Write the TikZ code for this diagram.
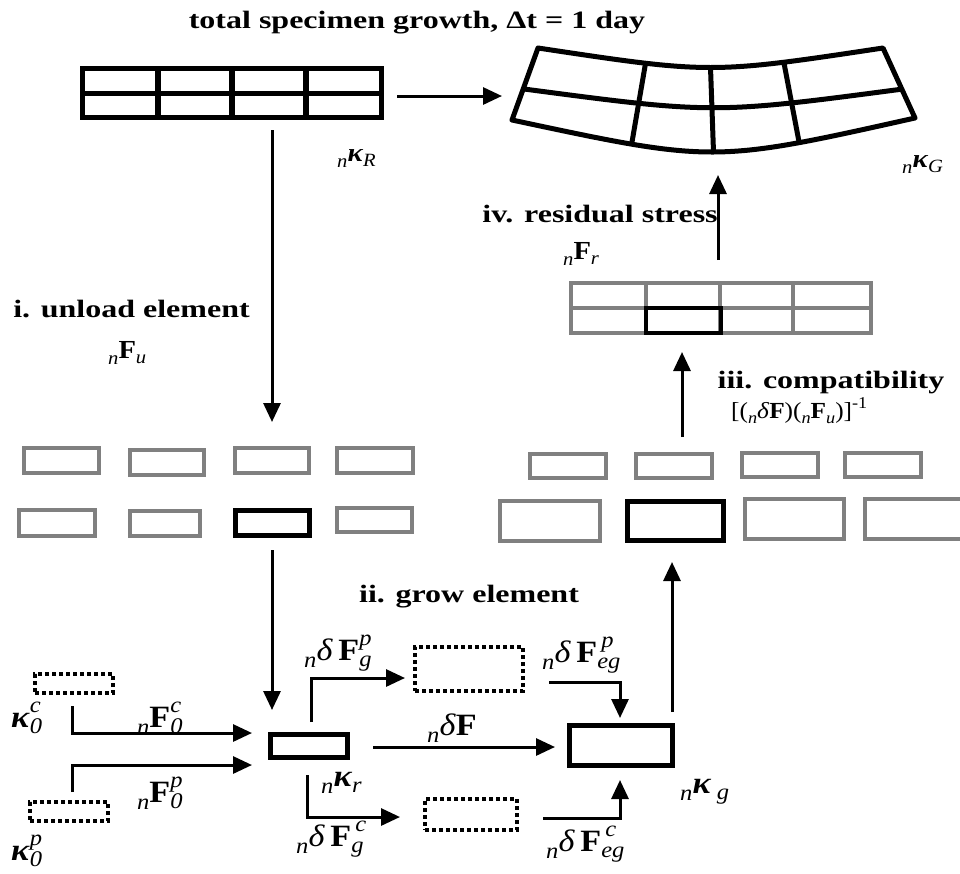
\documentclass[tikz,border=0pt]{standalone}
\usepackage{fontspec}
\setmainfont{Liberation Serif}
\usepackage{graphicx}
\usetikzlibrary{arrows.meta}
\definecolor{grayc}{RGB}{128,128,128}
\makeatletter
\newcommand\smallfnt{\fontsize{\fpeval{0.72*\f@size}}{0}\selectfont}
\makeatother
\newcommand\SUP[1]{\raisebox{0.48em}{\smallfnt\textit{#1}}}
\newcommand\SUB[1]{\raisebox{-0.22em}{\smallfnt\textit{#1}}}
\newcommand\pre{\raisebox{-0.25em}{\smallfnt\textit{n}}}
\newcommand\supsub[2]{\rlap{\SUP{#1}}\SUB{#2}}
\newcommand\kap{\textbf{\textit{κ}}}
\newcommand\Fb{\textbf{F}}
\newcommand\dl{\textit{δ}}
\begin{document}
\begin{tikzpicture}[x=1pt,y=-1pt,
  arr/.style={line width=3pt,-{Triangle[length=19pt,width=17pt]}},
  blk/.style={draw=black,line width=5pt,inner sep=0pt,rectangle},
  gry/.style={draw=grayc,line width=4pt,inner sep=0pt,rectangle},
  dotb/.style={draw=black,line width=4pt,dash pattern=on 4pt off 3pt,inner sep=0pt,rectangle},
  head/.style={font=\fontsize{25}{30}\selectfont\bfseries,xscale=1.28,inner sep=0pt,anchor=base},
  lab/.style={font=\fontsize{31}{34}\selectfont,xscale=1.1,inner sep=0pt,anchor=base west},
  sml/.style={font=\fontsize{26}{30}\selectfont,xscale=1.1,inner sep=0pt,anchor=base west},
]
\useasboundingbox (0,0) rectangle (960,873);

% ---------- top straight grid ----------
\node[blk,minimum width=299pt,minimum height=49pt] (R) at (232,93) {};
\draw[line width=5pt] (R.west) -- (R.east);
\foreach \xx in {158,232,306} \draw[line width=6pt] (\xx,68.5) -- (\xx,117.5);
\node[sml] (lR) at (337,161) {\pre\kap\SUB{R}};

% ---------- curved grown grid ----------
\coordinate (TL) at (538,48); \coordinate (TR) at (883,48);
\coordinate (ML) at (524,89); \coordinate (MR) at (903,89);
\coordinate (BL) at (512,120); \coordinate (BR) at (915,118);
\draw[line width=5pt,line join=round,line cap=round]
  (BL) -- (TL) .. controls (710.5,74) .. (TR) -- (BR) .. controls (713.5,163) .. (BL);
\draw[line width=5pt] (ML) .. controls (713.5,114) .. (MR);
\path (TL) .. controls (710.5,74) .. (TR)
  coordinate[pos=0.266] (t1) coordinate[pos=0.5] (t2) coordinate[pos=0.76] (t3);
\path (BL) .. controls (713.5,163) .. (BR)
  coordinate[pos=0.25] (b1) coordinate[pos=0.5] (b2) coordinate[pos=0.76] (b3);
\draw[line width=5pt] (t1) -- (b1) (t2) -- (b2) (t3) -- (b3);
\node[sml] (lG) at (902,167) {\pre\kap\SUB{G}};

\node[head] (title) at (417,28) {total specimen growth, Δt = 1 day};

\coordinate (a1s) at (397,96); \coordinate (a1e) at (502,96);
\draw[arr] (a1s) -- (a1e);

% ---------- residual stress grid ----------
\node[gry,minimum width=300pt,minimum height=50pt] (Fr) at (721,308) {};
\draw[grayc,line width=4pt] (Fr.west) -- (Fr.east);
\foreach \xx in {646,720,793} \draw[grayc,line width=4pt] (\xx,283) -- (\xx,333);
\draw[black,line width=4pt] (646,308) rectangle (721,333);
\node[head] (iv) at (600,222) {iv. residual stress};
\node[sml] (lFr) at (563,259) {\pre\Fb\SUB{r}};
\coordinate (a3s) at (718,260); \coordinate (a3e) at (718,175);
\draw[arr] (a3s) -- (a3e);

% ---------- unload ----------
\coordinate (a2s) at (272,130); \coordinate (a2e) at (272,422);
\draw[arr] (a2s) -- (a2e);
\node[head] (i) at (131.5,317) {i. unload element};
\node[sml] (lFu) at (108,358) {\pre\Fb\SUB{u}};

\node[gry,minimum width=75pt,minimum height=25pt] (u1) at (61.5,460.5) {};
\node[gry,minimum width=74pt,minimum height=25pt] (u2) at (167,462.5) {};
\node[gry,minimum width=74pt,minimum height=25pt] (u3) at (272,460.5) {};
\node[gry,minimum width=76pt,minimum height=25pt] (u4) at (375,460.5) {};
\node[gry,minimum width=76pt,minimum height=26pt] (l1) at (57,523) {};
\node[gry,minimum width=70pt,minimum height=25pt] (l2) at (165,523.5) {};
\node[blk,minimum width=74pt,minimum height=25pt] (l3) at (272.5,523) {};
\node[gry,minimum width=75pt,minimum height=24pt] (l4) at (374.5,520) {};

% ---------- compatibility ----------
\node[gry,minimum width=76pt,minimum height=24pt] (r1) at (568,466) {};
\node[gry,minimum width=76pt,minimum height=24pt] (r2) at (674,466) {};
\node[gry,minimum width=76pt,minimum height=24pt] (r3) at (780,465) {};
\node[gry,minimum width=76pt,minimum height=24pt] (r4) at (883,465) {};
\node[gry,minimum width=100pt,minimum height=40pt] (s1) at (550,521) {};
\node[blk,minimum width=96pt,minimum height=39pt] (s2) at (675.5,521) {};
\node[gry,minimum width=99pt,minimum height=40pt] (s3) at (794.5,519) {};
\draw[grayc,line width=4pt] (962,499) -- (865,499) -- (865,539) -- (962,539);
\coordinate (a4s) at (682,437); \coordinate (a4e) at (682,352);
\draw[arr] (a4s) -- (a4e);
\node[head] (iii) at (831,388) {iii. compatibility};
\node[font=\fontsize{23}{28}\selectfont,xscale=1.1,inner sep=0pt,anchor=base west] (lcomp) at (731,418) {[(\pre\dl\Fb)(\pre\Fb\SUB{u})]\raisebox{0.4em}{\smallfnt -1}};

% ---------- grow element ----------
\coordinate (a6s) at (272,550); \coordinate (a6e) at (272,710);
\draw[arr] (a6s) -- (a6e);
\node[head] (ii) at (469,602) {ii. grow element};

\node[blk,minimum width=77pt,minimum height=23pt] (kr) at (309,746) {};
\node[dotb,minimum width=78pt,minimum height=19pt] (dc) at (74,683.5) {};
\node[dotb,minimum width=78pt,minimum height=19pt] (dp) at (69,811.5) {};
\node[dotb,minimum width=108pt,minimum height=44pt] (gp) at (469,669) {};
\node[dotb,minimum width=92pt,minimum height=31pt] (gc) at (471,814.5) {};
\node[blk,minimum width=103pt,minimum height=40pt] (kg) at (621,745.5) {};

\node[lab] (lkc) at (11,727) {\kap\supsub{c}{0}};
\node[lab] (lkp) at (11,860) {\kap\supsub{p}{0}};
\node[lab] (lFc) at (137,727) {\pre\Fb\supsub{c}{0}};
\node[lab] (lFp) at (137,802) {\pre\Fb\supsub{p}{0}};
\node[lab] (lgp) at (304,660) {\pre\dl\,\Fb\supsub{p}{g}};
\node[lab] (ldF) at (427,735) {\pre\dl\Fb};
\node[lab] (lkr) at (321,786) {\pre\kap\SUB{r}};
\node[lab] (lgc) at (296,846) {\pre\dl\,\Fb\supsub{\,c}{g}};
\node[lab] (legp) at (542,662) {\pre\dl\,\Fb\supsub{\,p}{eg}};
\node[lab] (legc) at (546,851) {\pre\dl\,\Fb\supsub{\,c}{eg}};
\node[lab] (lkg) at (680,793) {\pre\kap\,\SUB{g}};

\coordinate (e1a) at (72,706); \coordinate (e1b) at (72,733); \coordinate (e1c) at (252,733);
\draw[arr] (e1a) -- (e1b) -- (e1c);
\coordinate (e2a) at (72,792); \coordinate (e2b) at (72,765); \coordinate (e2c) at (252,765);
\draw[arr] (e2a) -- (e2b) -- (e2c);
\coordinate (e3a) at (311,722); \coordinate (e3b) at (311,678); \coordinate (e3c) at (405,678);
\draw[arr] (e3a) -- (e3b) -- (e3c);
\coordinate (e4a) at (307,775); \coordinate (e4b) at (307,817); \coordinate (e4c) at (400,817);
\draw[arr] (e4a) -- (e4b) -- (e4c);
\coordinate (mA) at (373,747); \coordinate (mB) at (555,747);
\draw[arr] (mA) -- (mB);
\coordinate (e5a) at (549,682); \coordinate (e5b) at (620,682); \coordinate (e5c) at (620,718);
\draw[arr] (e5a) -- (e5b) -- (e5c);
\coordinate (e6a) at (543,818); \coordinate (e6b) at (620,818); \coordinate (e6c) at (620,780);
\draw[arr] (e6a) -- (e6b) -- (e6c);
\coordinate (a5s) at (672,712); \coordinate (a5e) at (672,562);
\draw[arr] (a5s) -- (a5e);
\end{tikzpicture}
\end{document}
